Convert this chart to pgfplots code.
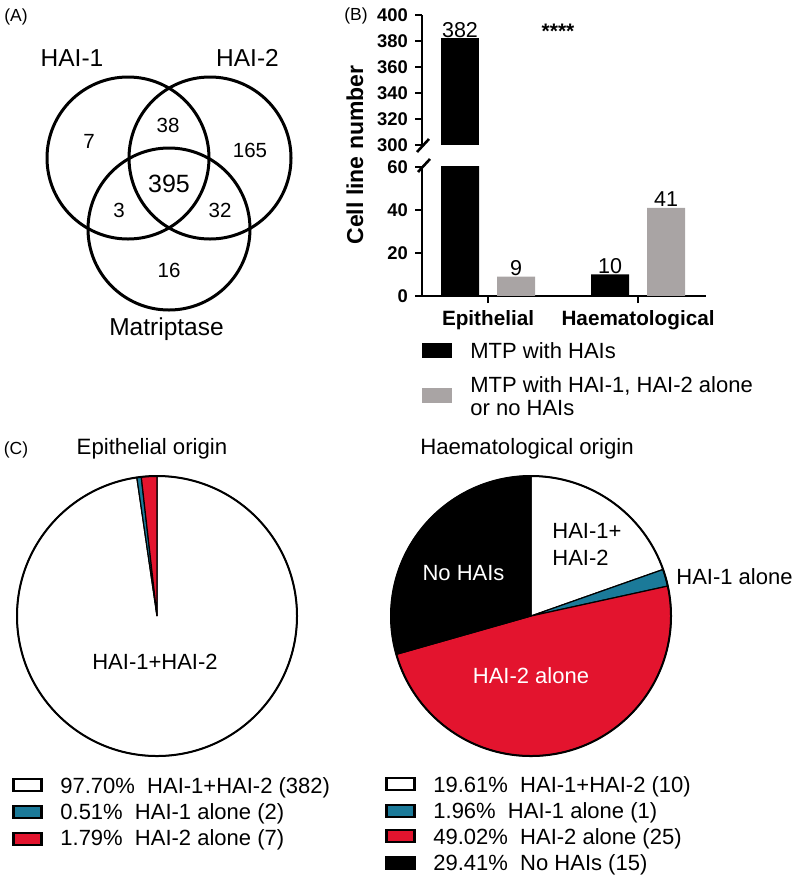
\documentclass[border=0pt]{standalone}
\usepackage{pgfplots}
\pgfplotsset{compat=1.18}
\usepackage{fontspec}
\setmainfont{Liberation Sans}
\definecolor{bargray}{HTML}{A9A4A4}
\definecolor{pteal}{HTML}{1B7A99}
\definecolor{pred}{HTML}{E3142E}
\newcommand{\fs}[1]{\fontsize{#1}{#1}\selectfont}
\begin{document}
\begin{tikzpicture}
\path[use as bounding box] (0pt,0pt) rectangle (400pt,-440.5pt);
% pie data (counts)
\def\eA{382}\def\eB{2}\def\eC{7}
\pgfmathsetmacro{\eT}{\eA+\eB+\eC}
\pgfmathsetmacro{\eOne}{90-360*(\eA/\eT)}
\pgfmathsetmacro{\eTwo}{\eOne-360*(\eB/\eT)}
\def\hA{10}\def\hB{1}\def\hC{25}\def\hD{15}
\pgfmathsetmacro{\hT}{\hA+\hB+\hC+\hD}
\pgfmathsetmacro{\hOne}{90-360*(\hA/\hT)}
\pgfmathsetmacro{\hTwo}{\hOne-360*(\hB/\hT)}
\pgfmathsetmacro{\hThree}{\hTwo-360*(\hC/\hT)}

% ---------- upper bar axis (broken) ----------
\begin{axis}[at={(211pt,-72.5pt)}, anchor=south west, scale only axis,
  width=142pt, height=65pt,
  xmin=-0.44, xmax=1.453, ymin=300, ymax=400,
  axis x line=none, axis y line=left,
  axis line style={-, line width=1.4pt},
  ytick={300,320,...,400},
  tick align=outside, major tick length=3.5pt,
  tick style={line width=1.4pt, black},
  yticklabel style={font=\bfseries\fs{9.2}},
  /pgf/number format/assume math mode=true,
  clip mode=individual]
\addplot[ybar, bar width=19pt, bar shift=-14pt, fill=black, draw=none,
  restrict y to domain=300:400] coordinates {(0,382) (1,10)};
\addplot[ybar, bar width=19pt, bar shift=14pt, fill=bargray, draw=none,
  restrict y to domain=300:400] coordinates {(0,9) (1,41)};
\node[anchor=base, xshift=-14pt, yshift=0.5pt, inner sep=0pt, font=\fs{10.75}] at (axis cs:0,382) {382};
\end{axis}

% ---------- lower bar axis ----------
\begin{axis}[at={(211pt,-148pt)}, anchor=south west, scale only axis,
  width=142pt, height=64.5pt,
  xmin=-0.44, xmax=1.453, ymin=0, ymax=60,
  axis x line=bottom, axis y line=left,
  axis line style={-, line width=1.4pt},
  xtick={0,1}, xticklabels={Epithelial,Haematological},
  ytick={0,20,40,60},
  tick align=outside, major tick length=3.5pt,
  tick style={line width=1.4pt, black},
  yticklabel style={font=\bfseries\fs{9.2}},
  xticklabel style={font=\bfseries\fs{10.35}},
  /pgf/number format/assume math mode=true,
  clip mode=individual]
\addplot[ybar, bar width=19pt, bar shift=-14pt, fill=black, draw=none] coordinates {(0,382) (1,10)};
\addplot[ybar, bar width=19pt, bar shift=14pt, fill=bargray, draw=none] coordinates {(0,9) (1,41)};
\node[anchor=base, xshift=14pt, yshift=0.5pt, inner sep=0pt, font=\fs{10.75}] at (axis cs:0,9) {9};
\node[anchor=base, xshift=-14pt, yshift=0.5pt, inner sep=0pt, font=\fs{10.75}] at (axis cs:1,10) {10};
\node[anchor=base, xshift=14pt, yshift=0.5pt, inner sep=0pt, font=\fs{10.75}] at (axis cs:1,41) {41};
\end{axis}

% ---------- canvas axis (px coordinates) ----------
\begin{axis}[at={(0pt,0pt)}, anchor=north west, scale only axis,
  width=400pt, height=440.5pt,
  xmin=0, xmax=800, ymin=0, ymax=881, y dir=reverse,
  hide axis, clip=false]
% panel letters
\node[anchor=base, inner sep=0pt, font=\fs{8.75}] at (axis cs:16,21) {(A)};
\node[anchor=base, inner sep=0pt, font=\fs{8.75}] at (axis cs:356,20) {(B)};
\node[anchor=base, inner sep=0pt, font=\fs{8.75}] at (axis cs:16,454) {(C)};

% Venn diagram
\draw[line width=1.5pt] (axis cs:128,158) circle[radius=40.5pt];
\draw[line width=1.5pt] (axis cs:210,158) circle[radius=40.5pt];
\draw[line width=1.5pt] (axis cs:169,229) circle[radius=40.5pt];
\node[anchor=base, inner sep=0pt, font=\fs{12.25}] at (axis cs:72,66) {HAI-1};
\node[anchor=base, inner sep=0pt, font=\fs{12.25}] at (axis cs:247.5,66) {HAI-2};
\node[anchor=base, inner sep=0pt, font=\fs{12.25}] at (axis cs:166.5,335) {Matriptase};
\node[anchor=base, inner sep=0pt, font=\fs{10.25}] at (axis cs:89,148) {7};
\node[anchor=base, inner sep=0pt, font=\fs{10.25}] at (axis cs:168,132) {38};
\node[anchor=base, inner sep=0pt, font=\fs{10.25}] at (axis cs:250,157) {165};
\node[anchor=base, inner sep=0pt, font=\fs{12.5}] at (axis cs:169,192) {395};
\node[anchor=base, inner sep=0pt, font=\fs{10.25}] at (axis cs:119,217) {3};
\node[anchor=base, inner sep=0pt, font=\fs{10.25}] at (axis cs:220,217) {32};
\node[anchor=base, inner sep=0pt, font=\fs{10.25}] at (axis cs:169,277) {16};

% bar chart extras
\node[rotate=90, anchor=base, inner sep=0pt, font=\bfseries\fs{11.5}] at (axis cs:363,155) {Cell line number};
\node[inner sep=0pt, font=\bfseries\fs{10.5}] at (axis cs:558,31) {****};
\draw[line width=1.3pt] (axis cs:417,152) -- (axis cs:429,139);
\draw[line width=1.3pt] (axis cs:418,172) -- (axis cs:430,159);
\fill[black] (axis cs:422,343) rectangle (axis cs:452,358);
\fill[bargray] (axis cs:422,388) rectangle (axis cs:452,403);
\node[anchor=base west, inner sep=0pt, font=\fs{11}] at (axis cs:470,358) {MTP with HAIs};
\node[anchor=base west, inner sep=0pt, font=\fs{11}] at (axis cs:470,392) {MTP with HAI-1, HAI-2 alone};
\node[anchor=base west, inner sep=0pt, font=\fs{11}] at (axis cs:470,415) {or no HAIs};

% pie titles
\node[anchor=base, inner sep=0pt, font=\fs{11.1}] at (axis cs:152,454) {Epithelial origin};
\node[anchor=base, inner sep=0pt, font=\fs{11.1}] at (axis cs:527,454) {Haematological origin};

% epithelial pie
\filldraw[fill=white, draw=black, line width=0.6pt] (axis cs:157,616) -- ++(90:70pt) arc[start angle=90, end angle=\eOne, radius=70pt] -- cycle;
\filldraw[fill=pteal, draw=black, line width=0.6pt] (axis cs:157,616) -- ++(\eOne:70pt) arc[start angle=\eOne, end angle=\eTwo, radius=70pt] -- cycle;
\filldraw[fill=pred, draw=black, line width=0.6pt] (axis cs:157,616) -- ++(\eTwo:70pt) arc[start angle=\eTwo, end angle=-270, radius=70pt] -- cycle;
\draw[line width=1pt] (axis cs:157,616) circle[radius=70pt];
\node[anchor=base, inner sep=0pt, font=\fs{11}] at (axis cs:155,669) {HAI-1+HAI-2};

% haematological pie
\filldraw[fill=white, draw=black, line width=0.6pt] (axis cs:531,616) -- ++(90:70pt) arc[start angle=90, end angle=\hOne, radius=70pt] -- cycle;
\filldraw[fill=pteal, draw=black, line width=0.6pt] (axis cs:531,616) -- ++(\hOne:70pt) arc[start angle=\hOne, end angle=\hTwo, radius=70pt] -- cycle;
\filldraw[fill=pred, draw=black, line width=0.6pt] (axis cs:531,616) -- ++(\hTwo:70pt) arc[start angle=\hTwo, end angle=\hThree, radius=70pt] -- cycle;
\filldraw[fill=black, draw=black, line width=0.6pt] (axis cs:531,616) -- ++(\hThree:70pt) arc[start angle=\hThree, end angle=-270, radius=70pt] -- cycle;
\draw[line width=1pt] (axis cs:531,616) circle[radius=70pt];
\node[anchor=base west, inner sep=0pt, font=\fs{11}] at (axis cs:552,538) {HAI-1+};
\node[anchor=base west, inner sep=0pt, font=\fs{11}] at (axis cs:552,565) {HAI-2};
\node[anchor=base, inner sep=0pt, font=\fs{11}, text=white] at (axis cs:463.5,580) {No HAIs};
\node[anchor=base west, inner sep=0pt, font=\fs{11}] at (axis cs:676,584) {HAI-1 alone};
\node[anchor=base, inner sep=0pt, font=\fs{11}, text=white] at (axis cs:531,683) {HAI-2 alone};

% epithelial legend
\filldraw[fill=white, draw=black, line width=1.4pt] (axis cs:13.5,779) rectangle (axis cs:41.5,791);
\filldraw[fill=pteal, draw=black, line width=1.4pt] (axis cs:13.5,806) rectangle (axis cs:41.5,818);
\filldraw[fill=pred, draw=black, line width=1.4pt] (axis cs:13.5,833) rectangle (axis cs:41.5,845);
\node[anchor=base west, inner sep=0pt, font=\fs{11}] at (axis cs:60,793) {97.70\%\ \ HAI-1+HAI-2 (382)};
\node[anchor=base west, inner sep=0pt, font=\fs{11}] at (axis cs:60,819) {0.51\%\ \ HAI-1 alone (2)};
\node[anchor=base west, inner sep=0pt, font=\fs{11}] at (axis cs:60,845) {1.79\%\ \ HAI-2 alone (7)};

% haematological legend
\filldraw[fill=white, draw=black, line width=1.4pt] (axis cs:386.5,778) rectangle (axis cs:414.5,790);
\filldraw[fill=pteal, draw=black, line width=1.4pt] (axis cs:386.5,805) rectangle (axis cs:414.5,817);
\filldraw[fill=pred, draw=black, line width=1.4pt] (axis cs:386.5,830) rectangle (axis cs:414.5,842);
\filldraw[fill=black, draw=black, line width=1.4pt] (axis cs:386.5,857) rectangle (axis cs:414.5,869);
\node[anchor=base west, inner sep=0pt, font=\fs{11}] at (axis cs:433,792) {19.61\%\ \ HAI-1+HAI-2 (10)};
\node[anchor=base west, inner sep=0pt, font=\fs{11}] at (axis cs:433,818) {1.96\%\ \ HAI-1 alone (1)};
\node[anchor=base west, inner sep=0pt, font=\fs{11}] at (axis cs:433,844) {49.02\%\ \ HAI-2 alone (25)};
\node[anchor=base west, inner sep=0pt, font=\fs{11}] at (axis cs:433,870) {29.41\%\ \ No HAIs (15)};
\end{axis}
\end{tikzpicture}
\end{document}
